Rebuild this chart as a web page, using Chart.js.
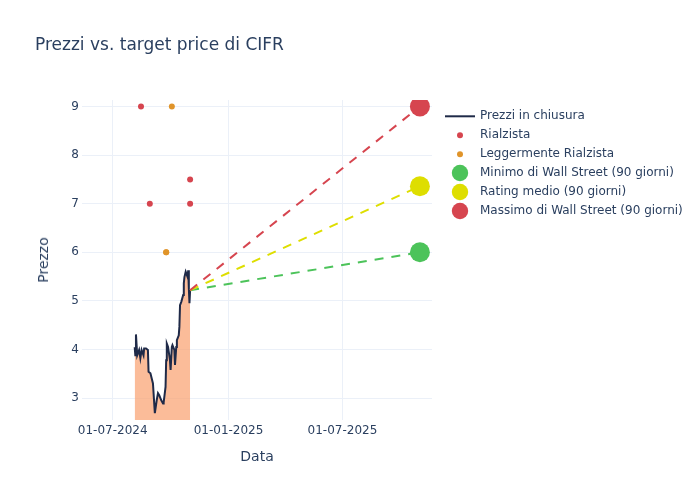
<!DOCTYPE html>
<html>
<head>
<meta charset="utf-8">
<script src="https://cdn.jsdelivr.net/npm/chart.js@4.4.1/dist/chart.umd.min.js"></script>
<style>
  html, body { margin: 0; padding: 0; background: #fff; }
  #wrap { position: relative; width: 700px; height: 500px; font-family: "DejaVu Sans", sans-serif; color: #2a3f5f; }
  #c { position: absolute; left: 0; top: 0; }
  .txt { position: absolute; white-space: nowrap; color: #2a3f5f; }
  #title { left: 35px; top: 34px; font-size: 17px; }
  #xtitle { left: 257px; top: 448px; font-size: 14px; transform: translateX(-50%); }
  #ytitle { left: 43px; top: 260px; font-size: 14px; transform: translate(-50%, -50%) rotate(-90deg); }
  #legend { position: absolute; left: 440px; top: 105.5px; font-size: 12px; }
  .item { position: relative; height: 19.1px; }
  .item svg { position: absolute; left: 0; top: 0; }
  .item span { position: absolute; left: 40px; top: 2px; white-space: nowrap; color: #2a3f5f; }
</style>
</head>
<body>
<div id="wrap">
  <canvas id="c" width="700" height="500"></canvas>
  <div class="txt" id="title">Prezzi vs. target price di CIFR</div>
  <div class="txt" id="xtitle">Data</div>
  <div class="txt" id="ytitle">Prezzo</div>
  <div id="legend"></div>
</div>
<script>
// ---- data ----
const priceDates = ['2024-08-05','2024-08-06','2024-08-07','2024-08-09','2024-08-12','2024-08-14','2024-08-16','2024-08-19','2024-08-20','2024-08-23','2024-08-26','2024-08-27','2024-08-30','2024-09-03','2024-09-04','2024-09-05','2024-09-06','2024-09-09','2024-09-11','2024-09-13','2024-09-16','2024-09-19','2024-09-20','2024-09-23','2024-09-24','2024-09-25','2024-09-27','2024-09-30','2024-10-01','2024-10-03','2024-10-04','2024-10-07','2024-10-08','2024-10-10','2024-10-11','2024-10-14','2024-10-15','2024-10-16','2024-10-18','2024-10-21','2024-10-22','2024-10-23','2024-10-25','2024-10-28','2024-10-29','2024-10-30','2024-10-31','2024-11-01'];
const priceValues = [4.05,3.88,4.31,3.88,3.99,3.82,3.99,3.88,4.02,4.02,3.99,3.54,3.51,3.30,3.10,2.89,2.69,2.96,3.10,3.06,2.96,2.89,2.91,3.23,3.78,4.12,4.05,3.78,3.58,4.05,4.09,3.99,3.68,4.05,4.19,4.29,4.47,4.91,4.98,5.12,5.36,5.49,5.60,5.49,5.63,5.25,4.95,5.22];

const bullDates = ['2024-08-15','2024-08-29','2024-11-01','2024-11-01'];
const bullValues = [9, 7, 7.5, 7];

const mildDates = ['2024-09-24','2024-09-24','2024-10-03'];
const mildValues = [6, 6, 9];

const targetDate = '2025-11-01';
const targetLow = 6;
const targetAvg = 7.36;
const targetHigh = 9;

const xTickDates = ['2024-07-01','2025-01-01','2025-07-01'];
const yTickValues = [3, 4, 5, 6, 7, 8, 9];

const legendLabels = ['Prezzi in chiusura','Rialzista','Leggermente Rialzista','Minimo di Wall Street (90 giorni)','Rating medio (90 giorni)','Massimo di Wall Street (90 giorni)'];

// ---- helpers ----
const DAY = 864e5;
const t = s => { const [y,m,d] = s.split('-').map(Number); return Date.UTC(y, m-1, d); };
const pts = (ds, vs) => ds.map((d,i) => ({x: t(d), y: vs[i]}));
const fmt = ms => { const d = new Date(ms); const p = n => String(n).padStart(2,'0'); return p(d.getUTCDate())+'-'+p(d.getUTCMonth()+1)+'-'+d.getUTCFullYear(); };

const COL = {
  line: '#1f2a48', fill: 'rgba(250,160,110,0.7)',
  red: '#d6454f', orange: '#e0942a', green: '#4cc35a', yellow: '#dede00', grid: '#ebf0f8', text: '#2a3f5f'
};

const lastX = t(priceDates[priceDates.length-1]);
const lastY = priceValues[priceValues.length-1];
const tX = t(targetDate);

const dash = [9, 8];
const datasets = [
  { label: legendLabels[0], data: pts(priceDates, priceValues), showLine: true, borderColor: COL.line, borderWidth: 2, pointRadius: 0, tension: 0, fill: 'start', backgroundColor: COL.fill, order: 10 },
  { label: 'low-line', data: [{x:lastX,y:lastY},{x:tX,y:targetLow}], showLine: true, borderColor: COL.green, borderWidth: 2, borderDash: dash, pointRadius: 0, order: 9 },
  { label: 'avg-line', data: [{x:lastX,y:lastY},{x:tX,y:targetAvg}], showLine: true, borderColor: COL.yellow, borderWidth: 2, borderDash: dash, pointRadius: 0, order: 8 },
  { label: 'high-line', data: [{x:lastX,y:lastY},{x:tX,y:targetHigh}], showLine: true, borderColor: COL.red, borderWidth: 2, borderDash: dash, pointRadius: 0, order: 7 },
  { label: legendLabels[1], data: pts(bullDates, bullValues), pointRadius: 3, pointBackgroundColor: COL.red, pointBorderWidth: 0, order: 6 },
  { label: legendLabels[2], data: pts(mildDates, mildValues), pointRadius: 3, pointBackgroundColor: COL.orange, pointBorderWidth: 0, order: 5 },
  { label: legendLabels[3], data: [{x:tX,y:targetLow}], pointRadius: 10, pointBackgroundColor: COL.green, pointBorderWidth: 0, order: 4 },
  { label: legendLabels[4], data: [{x:tX,y:targetAvg}], pointRadius: 10, pointBackgroundColor: COL.yellow, pointBorderWidth: 0, order: 3 },
  { label: legendLabels[5], data: [{x:tX,y:targetHigh}], pointRadius: 10, pointBackgroundColor: COL.red, pointBorderWidth: 0, order: 2 }
];

const font = { family: 'DejaVu Sans', size: 12 };

new Chart(document.getElementById('c'), {
  type: 'scatter',
  data: { datasets },
  options: {
    responsive: false, animation: false, devicePixelRatio: 1,
    layout: { padding: { left: 0, top: 100, right: 268, bottom: 0 } },
    plugins: { legend: { display: false }, tooltip: { enabled: false }, title: { display: false } },
    scales: {
      x: {
        type: 'linear',
        min: t('2024-07-01') - 48.7*DAY,
        max: t('2025-07-01') + 142.2*DAY,
        grid: { color: COL.grid, drawTicks: false, lineWidth: 1 },
        border: { display: false },
        ticks: { color: COL.text, font, padding: 4, maxRotation: 0, callback: v => fmt(v) },
        afterBuildTicks: s => { s.ticks = xTickDates.map(d => ({ value: t(d) })); },
        afterFit: s => { s.height = 80; }
      },
      y: {
        type: 'linear',
        min: 2.549, max: 9.134,
        grid: { color: COL.grid, drawTicks: false, lineWidth: 1 },
        border: { display: false },
        ticks: { color: COL.text, font, padding: 3 },
        afterBuildTicks: s => { s.ticks = yTickValues.map(v => ({ value: v })); },
        afterFit: s => { s.width = 82; }
      }
    }
  }
});

// ---- HTML legend ----
const legend = document.getElementById('legend');
const swatches = [
  '<svg width="40" height="19"><line x1="5" y1="10.3" x2="35" y2="10.3" stroke="'+COL.line+'" stroke-width="2"/></svg>',
  '<svg width="40" height="19"><circle cx="20" cy="10.3" r="3" fill="'+COL.red+'"/></svg>',
  '<svg width="40" height="19"><circle cx="20" cy="10.3" r="3" fill="'+COL.orange+'"/></svg>',
  '<svg width="40" height="19"><circle cx="20" cy="10" r="8.2" fill="'+COL.green+'"/></svg>',
  '<svg width="40" height="19"><circle cx="20" cy="10" r="8.2" fill="'+COL.yellow+'"/></svg>',
  '<svg width="40" height="19"><circle cx="20" cy="10" r="8.2" fill="'+COL.red+'"/></svg>'
];
legendLabels.forEach((lab, i) => {
  const d = document.createElement('div');
  d.className = 'item';
  d.innerHTML = swatches[i] + '<span></span>';
  d.querySelector('span').textContent = lab;
  legend.appendChild(d);
});
</script>
</body>
</html>
